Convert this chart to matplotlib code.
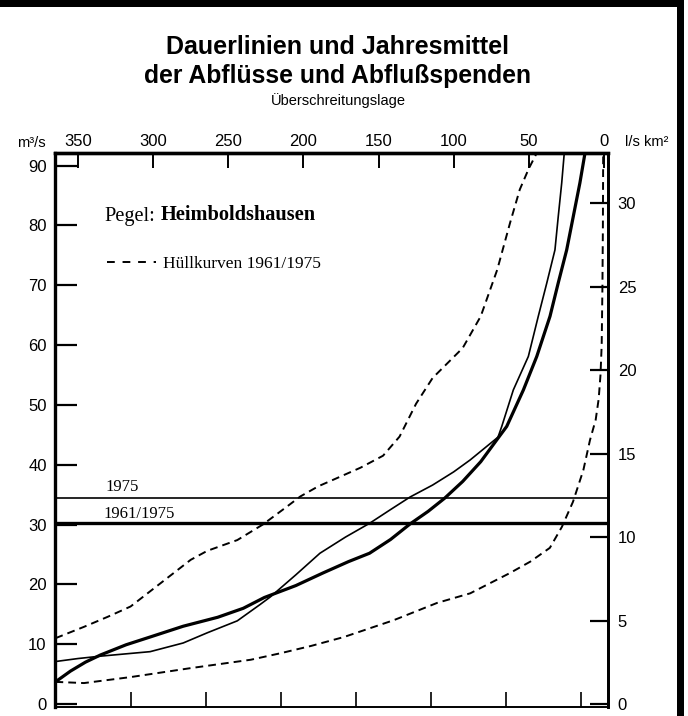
import matplotlib
matplotlib.use("Agg")  # no display, write straight to file
import matplotlib.pyplot as plt
from matplotlib.lines import Line2D
from matplotlib.patches import Rectangle

# =========================
# DATA
# =========================
# Überschreitungsdauer in days (x) and discharge in m³/s (y)
MEAN_DAYS = [365, 355, 345, 335, 318, 302, 280, 257, 240, 226, 205, 187, 170, 156,
             142, 129, 117, 106, 94, 82, 70, 64.7, 53.6, 44.7, 35.9, 30.4, 24.8,
             20.4, 16, 12.6]
MEAN_Q = [3.7, 5.5, 7.0, 8.2, 9.9, 11.2, 13.0, 14.5, 16.0, 17.8, 19.8, 21.9, 23.8, 25.2,
          27.5, 30.1, 32.2, 34.4, 37.2, 40.5, 44.6, 46.4, 52.5, 58.1, 64.8, 70.4, 75.9,
          81.5, 87.1, 92.1]

Y1975_DAYS = [365, 350, 335, 302, 280, 264, 244, 229, 222, 205, 189, 172, 156, 142,
              129, 114, 100, 89, 70.5, 68, 60.3, 50.3, 43.7, 38.1, 32.6, 30.4, 28.1,
              26.4]
Y1975_Q = [7.1, 7.6, 8.0, 8.75, 10.2, 11.9, 13.9, 16.6, 17.9, 21.6, 25.2, 27.9, 30.2,
           32.5, 34.6, 36.6, 38.8, 40.8, 44.6, 46.4, 52.5, 58.1, 64.8, 70.3, 75.9,
           81.5, 87.1, 92.1]

# envelopes (Hüllkurven) 1961/1975
UPPER_DAYS = [365, 346, 330, 315, 295, 275, 264, 244, 227, 212, 202, 190, 180, 162,
              147, 136, 125, 114, 104, 94, 82, 71, 62.5, 56, 50, 44.7]
UPPER_Q = [11.0, 12.9, 14.6, 16.3, 20.2, 24.1, 25.6, 27.4, 30.0, 32.8, 34.7, 36.4, 37.5,
           39.5, 41.5, 44.7, 50.2, 54.5, 57.0, 59.5, 64.8, 72.6, 80.4, 86.0, 89.5, 92.1]

LOWER_DAYS = [365, 346, 315, 275, 235, 215, 195, 173, 140, 111, 89, 75, 62.5, 49, 36,
              28, 20.6, 13.7, 9.3, 5.5, 3.5, 2.3, 1.5, 1.0, 0.7, 0.5]
LOWER_Q = [3.7, 3.5, 4.5, 6.0, 7.4, 8.5, 9.7, 11.2, 14.0, 16.9, 18.5, 20.3, 21.9, 23.8,
           26.1, 29.6, 33.8, 39.1, 44.1, 47.5, 51.0, 55.0, 60.0, 70.0, 80.0, 92.1]

# annual means (MQ)
MQ_1975 = 34.5
MQ_1961_1975 = 30.3

CATCHMENT_KM2 = 2790  # converts m³/s to l/s km²

TOP_TICKS = [350, 300, 250, 200, 150, 100, 50, 0]
BOTTOM_TICKS = [315, 265, 215, 165, 115, 65, 15]
LEFT_TICKS = [0, 10, 20, 30, 40, 50, 60, 70, 80, 90]
RIGHT_TICKS = [0, 5, 10, 15, 20, 25, 30]

W, H = 688, 716
SANS = "Liberation Sans"
SERIF = "Liberation Serif"


def to_spende(q):
    return q * 1000.0 / CATCHMENT_KM2


def to_abfluss(s):
    return s * CATCHMENT_KM2 / 1000.0


def fx(px):
    return px / W


def fy(py):
    return 1 - py / H


# =========================
# PLOT
# =========================
def main():
    plt.rcParams["font.family"] = SANS
    fig = plt.figure(figsize=(W / 100, H / 100), dpi=100)
    ax = fig.add_axes([fx(55), fy(707), fx(608) - fx(55), fy(153) - fy(707)])

    dash = (0, (4, 2.6))
    ax.plot(MEAN_DAYS, MEAN_Q, color="k", lw=2.3, solid_joinstyle="round")
    ax.plot(Y1975_DAYS, Y1975_Q, color="k", lw=1.2, solid_joinstyle="round")
    ax.plot(UPPER_DAYS, UPPER_Q, color="k", lw=1.4, ls=dash)
    ax.plot(LOWER_DAYS, LOWER_Q, color="k", lw=1.4, ls=dash)
    ax.axhline(MQ_1975, color="k", lw=1.2)
    ax.axhline(MQ_1961_1975, color="k", lw=2.4)

    ax.annotate("1975", xy=(332, MQ_1975), xytext=(0, 5), textcoords="offset points",
                ha="left", va="baseline", fontsize=12, family=SERIF)
    ax.annotate("1961/1975", xy=(333, MQ_1961_1975), xytext=(0, 3.5),
                textcoords="offset points", ha="left", va="baseline",
                fontsize=12, family=SERIF)

    ax.set_xlim(365.3, -2.7)
    ax.set_ylim(-0.5, 92.1)

    # axes frame
    ax.spines["left"].set_linewidth(2.4)
    ax.spines["top"].set_linewidth(2.4)
    ax.spines["right"].set_linewidth(2.0)
    ax.spines["bottom"].set_linewidth(1.4)

    ax.set_xticks(BOTTOM_TICKS)
    ax.tick_params(axis="x", direction="in", length=11, width=1.2, labelbottom=False)
    ax.set_yticks(LEFT_TICKS)
    ax.tick_params(axis="y", direction="in", length=16, width=1.6, labelsize=12, pad=6)

    top = ax.secondary_xaxis("top")
    top.set_xticks(TOP_TICKS)
    top.tick_params(direction="in", length=11, width=1.4, labelsize=12, pad=3)
    top.spines["top"].set_linewidth(2.4)

    right = ax.secondary_yaxis("right", functions=(to_spende, to_abfluss))
    right.set_yticks(RIGHT_TICKS)
    right.tick_params(direction="in", length=13, width=1.6, labelsize=12, pad=7)
    right.spines["right"].set_linewidth(2.0)

    # station name and legend
    pegel = fig.text(fx(104), fy(216), "Pegel:", ha="left", va="center",
                     fontsize=14.7, family=SERIF)
    ax.annotate("Heimboldshausen", xy=(1, 0), xycoords=pegel, xytext=(4, 0),
                textcoords="offset points", ha="left", va="bottom",
                fontsize=14.7, family=SERIF, fontweight="bold")
    handle = Line2D([], [], color="k", lw=1.4, ls=(0, (4, 4)))
    ax.legend([handle], ["Hüllkurven 1961/1975"], loc="center left",
              bbox_to_anchor=(fx(107), fy(264)), bbox_transform=fig.transFigure,
              frameon=False, borderpad=0, borderaxespad=0, handlelength=2.8,
              handletextpad=0.4, prop={"family": SERIF, "size": 12.5})

    # titles and units
    fig.text(fx(338), fy(47), "Dauerlinien und Jahresmittel", ha="center", va="center",
             fontsize=18, fontweight="bold")
    fig.text(fx(337), fy(76), "der Abflüsse und Abflußspenden", ha="center", va="center",
             fontsize=17.8, fontweight="bold")
    fig.text(fx(338), fy(101), "Überschreitungslage", ha="center", va="center",
             fontsize=10.5)
    fig.text(fx(31), fy(143), "m³/s", ha="center", va="center", fontsize=10.5)
    fig.text(fx(647), fy(142), "l/s km²", ha="center", va="center", fontsize=10.5)

    # page border
    fig.add_artist(Rectangle((0, fy(7)), fx(684), fy(0) - fy(7),
                             transform=fig.transFigure, color="k", lw=0))
    fig.add_artist(Rectangle((fx(677), 0), fx(684) - fx(677), 1,
                             transform=fig.transFigure, color="k", lw=0))

    fig.savefig("out.png", dpi=100)
    plt.close(fig)


if __name__ == "__main__":
    main()
